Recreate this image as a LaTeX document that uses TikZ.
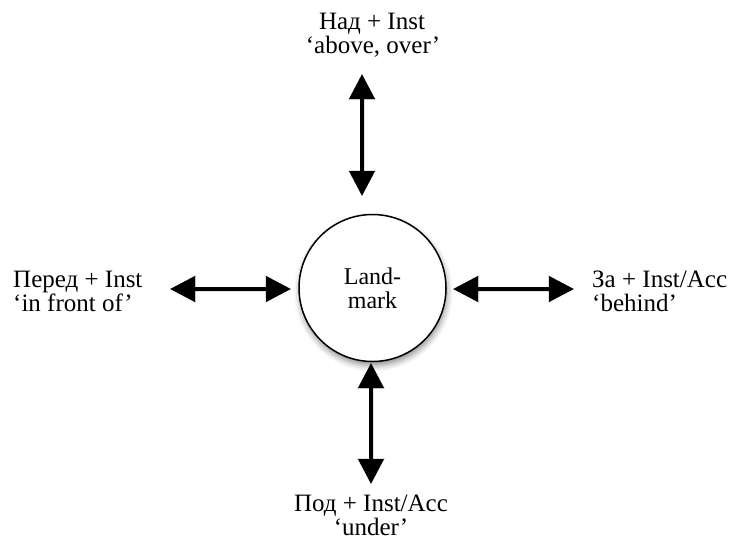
\documentclass[tikz,border=0pt]{standalone}
\usepackage{fontspec}
\setmainfont{Liberation Serif}
\usetikzlibrary{arrows.meta,shadows.blur}
\tikzset{
  lbl/.style={inner sep=0pt, font=\fontsize{25}{24}\selectfont, text height=17pt, text depth=5pt},
  dblarrow/.style={line width=3.8pt, {Triangle[length=25pt,width=25pt]}-{Triangle[length=25pt,width=25pt]}},
  arrshadow/.style={line width=5pt, draw=black, opacity=0.12, {Triangle[length=26pt,width=27pt]}-{Triangle[length=26pt,width=27pt]}},
  landmark/.style={circle, draw=black, line width=1.5pt, fill=white, minimum size=147pt, inner sep=0pt,
    align=center, font=\fontsize{24}{24}\selectfont,
    blur shadow={shadow xshift=1pt, shadow yshift=-4pt, shadow blur radius=6pt, shadow opacity=45}}
}
\begin{document}
\begin{tikzpicture}[x=1pt,y=-1pt]
\useasboundingbox (0,0) rectangle (736,539);
% landmark
\node[landmark] (L) at (372.5,288) {Land-\\mark};
% arrow endpoints
\coordinate (t1) at (362,74);
\coordinate (t2) at (362,196);
\coordinate (b1) at (371,363);
\coordinate (b2) at (371,484);
\coordinate (l1) at (170,289);
\coordinate (l2) at (291,289);
\coordinate (r1) at (453,289);
\coordinate (r2) at (574,289);
% soft shadows of arrows
\begin{scope}[shift={(2,3)}]
\draw[arrshadow] (t1) -- (t2);
\draw[arrshadow] (b1) -- (b2);
\draw[arrshadow] (l1) -- (l2);
\draw[arrshadow] (r1) -- (r2);
\end{scope}
% arrows
\draw[dblarrow] (t1) -- (t2);
\draw[dblarrow] (b1) -- (b2);
\draw[dblarrow] (l1) -- (l2);
\draw[dblarrow] (r1) -- (r2);
% labels
\node[lbl, anchor=base] (top1) at (372,29) {Над + Inst};
\node[lbl, anchor=base] (top2) at (373,53) {‘above, over’};
\node[lbl, anchor=base west] (left1) at (13,287) {Перед + Inst};
\node[lbl, anchor=base west] (left2) at (13,311) {‘in front of’};
\node[lbl, anchor=base west] (right1) at (592,287) {За + Inst/Acc};
\node[lbl, anchor=base west] (right2) at (592,311) {‘behind’};
\node[lbl, anchor=base] (bot1) at (371,511) {Под + Inst/Acc};
\node[lbl, anchor=base] (bot2) at (371,535) {‘under’};
\end{tikzpicture}
\end{document}
